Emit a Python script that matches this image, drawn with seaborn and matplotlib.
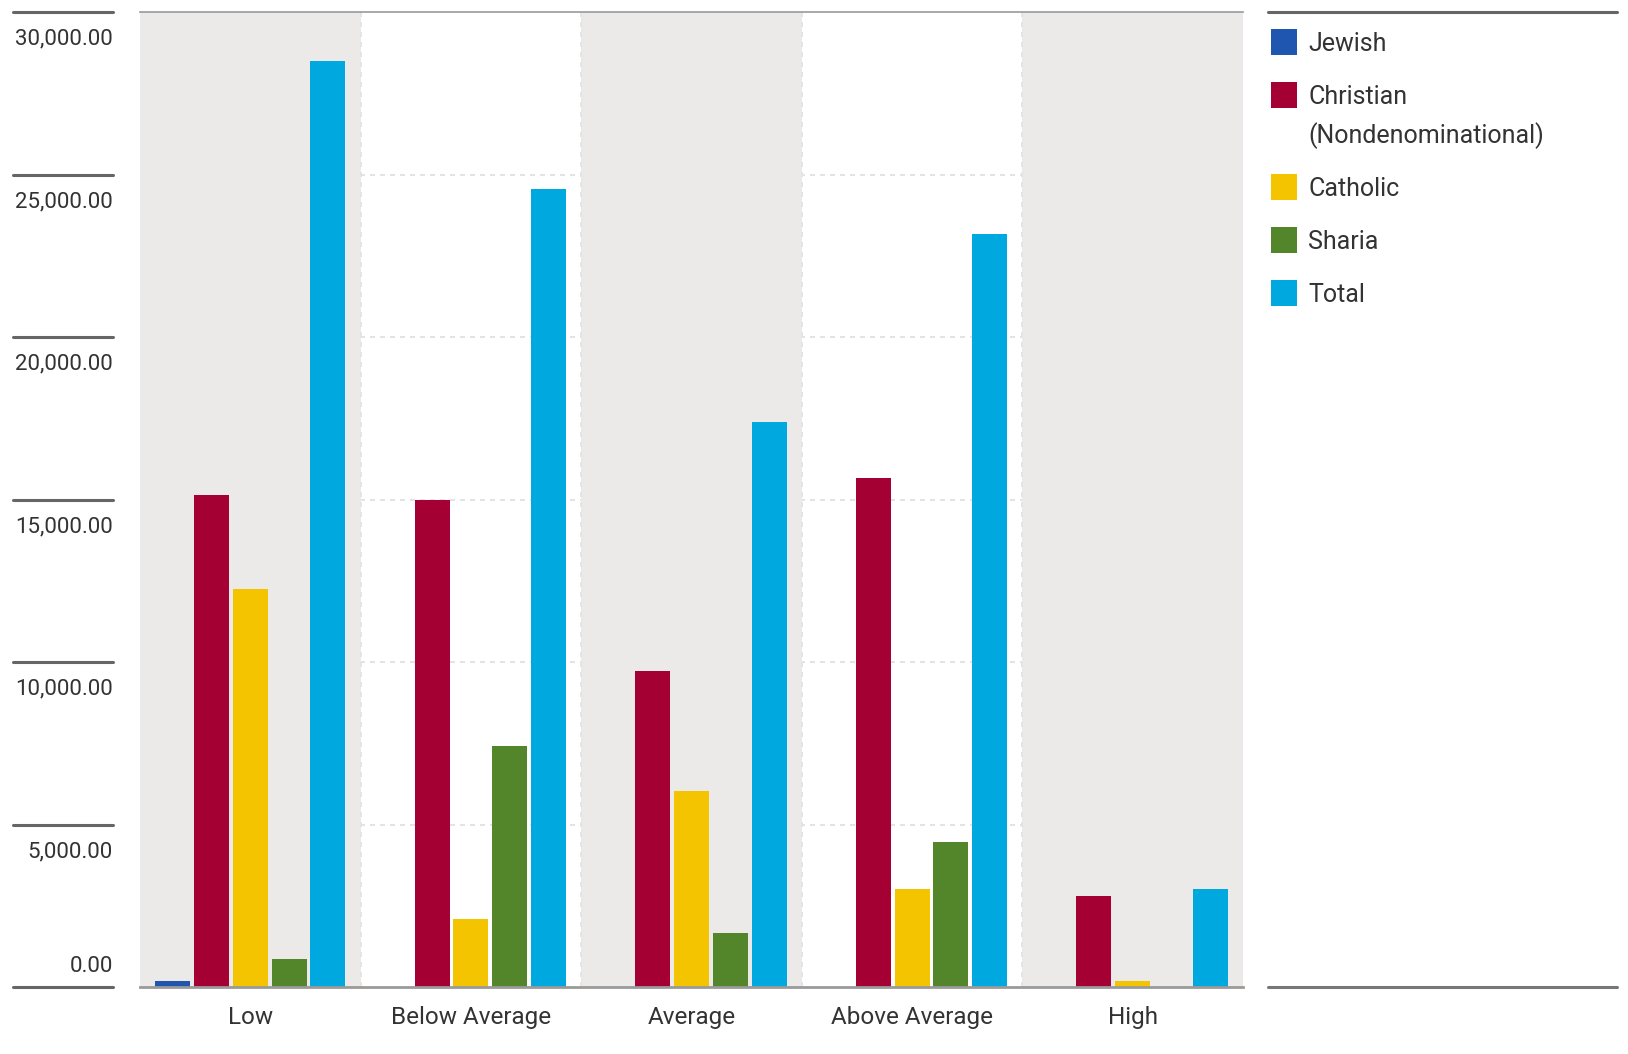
import pandas as pd
import numpy as np
import matplotlib
matplotlib.use("Agg")
import matplotlib.pyplot as plt
import matplotlib.transforms as mtransforms
from matplotlib.lines import Line2D
from matplotlib.patches import Rectangle
import seaborn as sns

# data
levels = ["Low", "Below Average", "Average", "Above Average", "High"]
religions = ["Jewish", "Christian (Nondenominational)", "Catholic", "Sharia", "Total"]
jewish = [200, 0, 0, 0, 0]
christian = [15130, 15000, 9730, 15670, 2800]
catholic = [12250, 2100, 6030, 3020, 200]
sharia = [850, 7430, 1650, 4460, 0]
total = [28480, 24560, 17400, 23180, 3020]
colors = ["#1f56b0", "#a50034", "#f5c400", "#53862b", "#00a8e0"]
y_ticks = [0, 5000, 10000, 15000, 20000, 25000, 30000]
legend_labels = ["Jewish", "Christian\n(Nondenominational)", "Catholic", "Sharia", "Total"]

series = [jewish, christian, catholic, sharia, total]
df = pd.DataFrame({
    "level": levels * len(religions),
    "religion": np.repeat(religions, len(levels)),
    "value": np.concatenate(series),
})

sns.set_theme(style="white")
plt.rcParams["font.family"] = ["Roboto", "DejaVu Sans"]
text_col = "#333333"
W, H = 1628, 1054

fig = plt.figure(figsize=(W / 100, H / 100), dpi=100)
ax = fig.add_axes([140 / W, 1 - 987 / H, 1103 / W, 975 / H])

# dashed grid first, grey bands cover it
ax.hlines(y_ticks[1:-1], -0.5, len(levels) - 0.5, colors="#dedede",
          linestyles=(0, (3, 3)), linewidth=1.2, zorder=0.5)
for i in range(len(levels)):
    if i % 2 == 0:
        ax.axvspan(i - 0.5, i + 0.5, color="#ebeae9", lw=0, zorder=1)
for i in range(len(levels) - 1):
    ax.axvline(i + 0.5, color="#e2e2e2", ls=(0, (3, 3)), lw=1.2, zorder=1.2)

sns.barplot(data=df, x="level", y="value", hue="religion", order=levels,
            hue_order=religions, palette=colors, saturation=1, width=0.88,
            gap=0.1, linewidth=0, ax=ax, zorder=2)

ax.set_xlim(-0.5, len(levels) - 0.5)
ax.set_ylim(0, 30000)
ax.set_xlabel("")
ax.set_ylabel("")
ax.set_yticks([])
ax.tick_params(axis="x", length=0, pad=14, labelsize=17.5, labelcolor=text_col)
for side in ["left", "right"]:
    ax.spines[side].set_visible(False)
ax.spines["bottom"].set_color("#9a9a9a")
ax.spines["bottom"].set_linewidth(2)
ax.spines["bottom"].set_zorder(3)
ax.spines["top"].set_color("#9a9a9a")
ax.spines["top"].set_linewidth(1.2)

# y labels sit under short rules on the far left
trans = mtransforms.blended_transform_factory(fig.transFigure, ax.transData)
for v in y_ticks:
    ax.add_line(Line2D([13 / W, 113 / W], [v, v], transform=trans,
                       color="#666666", lw=2.2, clip_on=False))
    lab = f"{v:,.2f}"
    if v == 0:
        ax.annotate(lab, (113 / W, v), xycoords=trans, xytext=(0, 11),
                    textcoords="offset points", ha="right", va="baseline",
                    fontsize=16, color=text_col, annotation_clip=False)
    else:
        ax.annotate(lab, (113 / W, v), xycoords=trans, xytext=(0, -12),
                    textcoords="offset points", ha="right", va="top",
                    fontsize=16, color=text_col, annotation_clip=False)

# legend on the right, drawn by hand so the swatch sits on the first line
ax.get_legend().remove()
y = 42
for lab, c in zip(legend_labels, colors):
    fig.add_artist(Rectangle((1271 / W, 1 - (y + 13) / H), 26 / W, 26 / H,
                             transform=fig.transFigure, facecolor=c,
                             edgecolor="none"))
    first, *rest = lab.split("\n")
    fig.text(1308 / W, 1 - (y + 9) / H, first, ha="left", va="baseline",
             fontsize=18, color=text_col)
    for k, line in enumerate(rest, 1):
        fig.text(1308 / W, 1 - (y + 9 + 39 * k) / H, line, ha="left",
                 va="baseline", fontsize=18, color=text_col)
    y += 53 + 39 * len(rest)

fig.add_artist(Line2D([1268 / W, 1617 / W], [1 - 12 / H] * 2,
                      transform=fig.transFigure, color="#666666", lw=2.2))
fig.add_artist(Line2D([1268 / W, 1617 / W], [1 - 987 / H] * 2,
                      transform=fig.transFigure, color="#777777", lw=2.2))

fig.savefig("out.png", dpi=100, facecolor="white")
